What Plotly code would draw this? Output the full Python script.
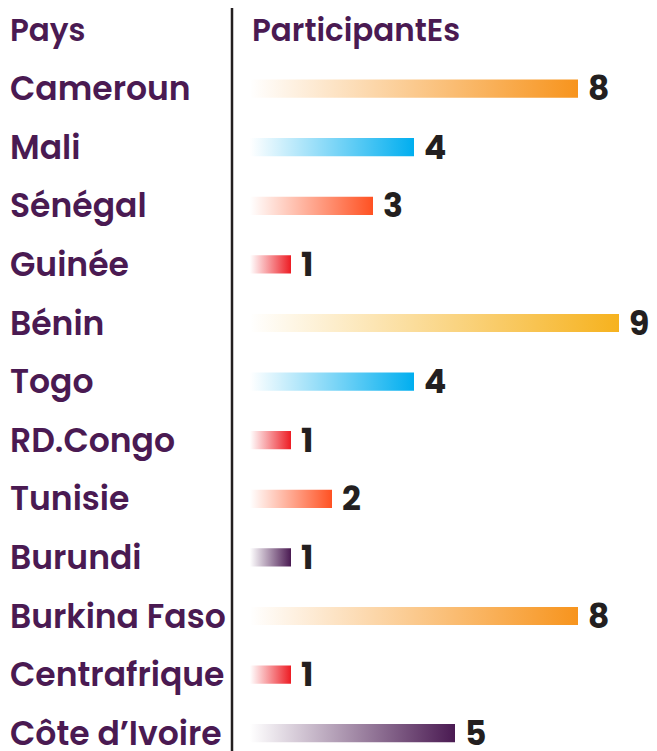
import plotly.graph_objects as go

countries = ["Cameroun", "Mali", "Sénégal", "Guinée", "Bénin", "Togo", "RD.Congo",
             "Tunisie", "Burundi", "Burkina Faso", "Centrafrique", "Côte d’Ivoire"]
participants = [8, 4, 3, 1, 9, 4, 1, 2, 1, 8, 1, 5]
bar_colors = ["#f7941d", "#00aeef", "#ff5122", "#ed1c24", "#f6b21e", "#00aeef", "#ed1c24",
              "#ff5122", "#4a1a52", "#f7941d", "#ed1c24", "#4a1a52"]
header_left = "Pays"
header_right = "ParticipantEs"

OFF = 8  # page body margin
W, H = 657 - OFF, 751 - OFF
PX_PER_UNIT = 41
X0_PX = 250
ROW0_PX = 30
ROW_PX = 58.6

def px_to_x(p):
    return (p - X0_PX) / PX_PER_UNIT

def px_to_y(p):
    return (p - ROW0_PX) / ROW_PX

PURPLE = "#4a1a52"
DARK = "#231f20"
FONT = "Poppins, Inter, sans-serif"

def rgba(hexc, a):
    h = hexc.lstrip("#")
    r, g, b = int(h[0:2], 16), int(h[2:4], 16), int(h[4:6], 16)
    return f"rgba({r},{g},{b},{a})"

fig = go.Figure()
half = 0.155
for i, (c, v, col) in enumerate(zip(countries, participants, bar_colors)):
    y = i + 1
    fig.add_trace(go.Scatter(
        x=[0, v, v, 0, 0], y=[y - half, y - half, y + half, y + half, y - half],
        mode="lines", line=dict(width=0), fill="toself",
        fillgradient=dict(type="horizontal", start=0, stop=v,
                          colorscale=[[0, rgba(col, 0)], [1, rgba(col, 1)]]),
        hoverinfo="skip", showlegend=False,
    ))

annotations = []
annotations.append(dict(x=px_to_x(8), y=0, text=header_left, xanchor="left", yanchor="middle",
                        showarrow=False, font=dict(family=FONT, size=31, color=PURPLE, weight=600)))
annotations.append(dict(x=0, y=0, text=header_right, xanchor="left", yanchor="middle", xshift=0,
                        showarrow=False, font=dict(family=FONT, size=31, color=PURPLE, weight=600)))
for i, (c, v) in enumerate(zip(countries, participants)):
    y = i + 1
    annotations.append(dict(x=px_to_x(8), y=y, text=c, xanchor="left", yanchor="middle",
                            showarrow=False, font=dict(family=FONT, size=33, color=PURPLE, weight=600)))
    annotations.append(dict(x=v, y=y, text=str(v), xanchor="left", yanchor="middle", xshift=8,
                            showarrow=False, font=dict(family=FONT, size=33, color=DARK, weight=700)))

fig.add_shape(type="line", x0=px_to_x(232), x1=px_to_x(232), y0=px_to_y(8), y1=px_to_y(H + OFF),
              line=dict(color=DARK, width=2.5))

fig.update_layout(
    width=W, height=H, margin=dict(l=0, r=0, t=0, b=0),
    paper_bgcolor="white", plot_bgcolor="white",
    xaxis=dict(range=[px_to_x(OFF), px_to_x(W + OFF)], visible=False, fixedrange=True),
    yaxis=dict(range=[px_to_y(H + OFF), px_to_y(OFF)], visible=False, fixedrange=True),
    annotations=annotations,
)
fig.write_html("out.html")
